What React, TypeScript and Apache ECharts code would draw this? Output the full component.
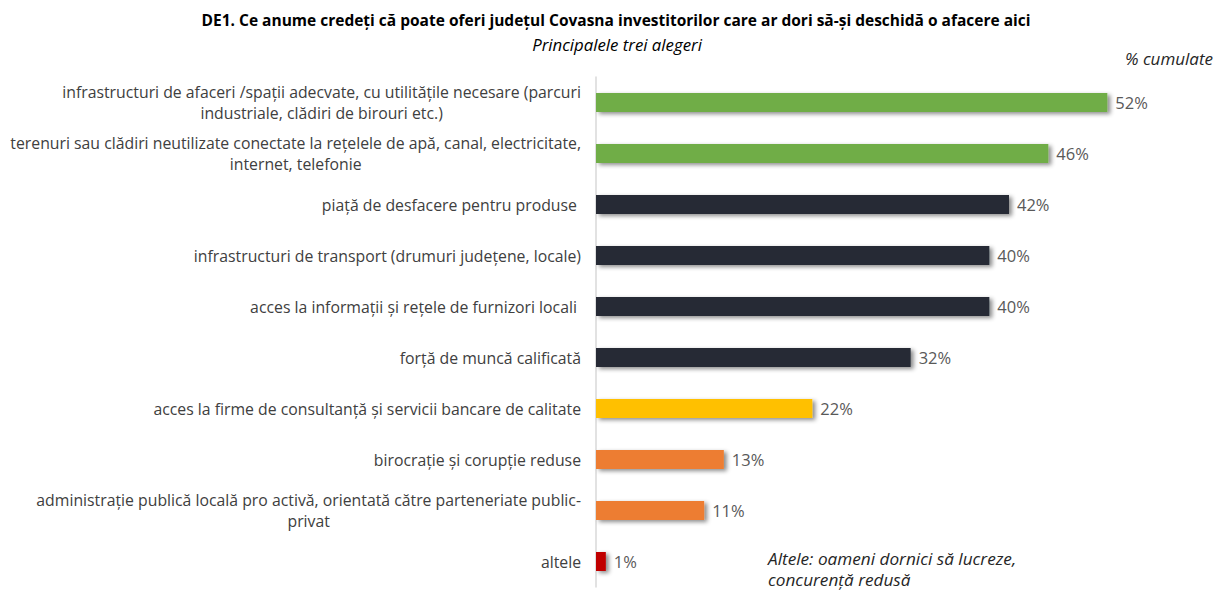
import React, { useEffect, useRef } from "react";
import * as echarts from "echarts";

const categories = [
  "infrastructuri de afaceri /spații adecvate, cu utilitățile necesare (parcuri\nindustriale, clădiri de birouri etc.)",
  "terenuri sau clădiri neutilizate conectate la rețelele de apă, canal, electricitate,\ninternet, telefonie",
  "piață de desfacere pentru produse ",
  "infrastructuri de transport (drumuri județene, locale)",
  "acces la informații și rețele de furnizori locali ",
  "forță de muncă calificată",
  "acces la firme de consultanță și servicii bancare de calitate",
  "birocrație și corupție reduse",
  "administrație publică locală pro activă, orientată către parteneriate public-\nprivat",
  "altele",
];
const values = [52, 46, 42, 40, 40, 32, 22, 13, 11, 1];
const barColors = [
  "#70AD47",
  "#70AD47",
  "#262B35",
  "#262B35",
  "#262B35",
  "#262B35",
  "#FFC000",
  "#ED7D31",
  "#ED7D31",
  "#C00000",
];
const titleText =
  "DE1. Ce anume credeți că poate oferi județul Covasna investitorilor care ar dori să-și deschidă o afacere aici";
const subtitleText = "Principalele trei alegeri";
const unitNote = "% cumulate";
const otherNote = "Altele: oameni dornici să lucreze,\nconcurență redusă";

const FONT = "'Open Sans', 'Noto Sans', sans-serif";

export default function App() {
  const ref = useRef<HTMLDivElement>(null);
  useEffect(() => {
    if (!ref.current) return;
    const chart = echarts.init(ref.current, undefined, { renderer: "svg" });
    chart.setOption({
      animation: false,
      backgroundColor: "#FFFFFF",
      textStyle: { fontFamily: FONT },
      graphic: [
        {
          type: "text",
          x: 616,
          y: 20,
          style: {
            text: titleText,
            fontFamily: FONT,
            fontSize: 15.5,
            fontWeight: "bold",
            fill: "#000000",
            align: "center",
            verticalAlign: "middle",
          },
        },
        {
          type: "text",
          x: 617,
          y: 44,
          style: {
            text: subtitleText,
            fontFamily: FONT,
            fontSize: 16.8,
            fontStyle: "italic",
            fill: "#000000",
            align: "center",
            verticalAlign: "middle",
          },
        },
        {
          type: "text",
          right: 9,
          top: 50,
          style: { text: unitNote, fontFamily: FONT, fontSize: 17, fontStyle: "italic", fill: "#262626" },
        },
        {
          type: "text",
          left: 768,
          top: 548,
          style: {
            text: otherNote,
            fontFamily: FONT,
            fontSize: 17.2,
            fontStyle: "italic",
            fill: "#262626",
            lineHeight: 21,
          },
        },
      ],
      grid: { left: 596, right: 36, top: 77, bottom: 5, containLabel: false },
      xAxis: {
        type: "value",
        min: 0,
        max: 60,
        show: false,
      },
      yAxis: {
        type: "category",
        data: categories,
        inverse: true,
        axisLine: { show: true, lineStyle: { color: "#D9D9D9", width: 1.5 } },
        axisTick: { show: false },
        splitLine: { show: false },
        axisLabel: {
          margin: 15,
          formatter: (v: string) =>
            v
              .split("\n")
              .map((l) => `{a|${l}}`)
              .join("\n"),
          rich: {
            a: {
              fontFamily: FONT,
              fontSize: 15.8,
              color: "#404040",
              lineHeight: 21,
              align: "center",
            },
          },
        },
      },
      series: [
        {
          type: "bar",
          barWidth: 19,
          data: values.map((v, i) => ({
            value: v,
            itemStyle: {
              color: barColors[i],
              shadowColor: "rgba(0,0,0,0.45)",
              shadowBlur: 4,
              shadowOffsetX: 3,
              shadowOffsetY: 2,
            },
          })),
          label: {
            show: true,
            position: "right",
            distance: 8,
            formatter: (p: any) => `${p.value}%`,
            fontFamily: FONT,
            fontSize: 16.5,
            color: "#595959",
          },
        },
      ],
    });
    return () => chart.dispose();
  }, []);
  return (
    <div
      ref={ref}
      style={{ position: "fixed", left: 0, top: 0, width: 1222, height: 592 }}
    />
  );
}
